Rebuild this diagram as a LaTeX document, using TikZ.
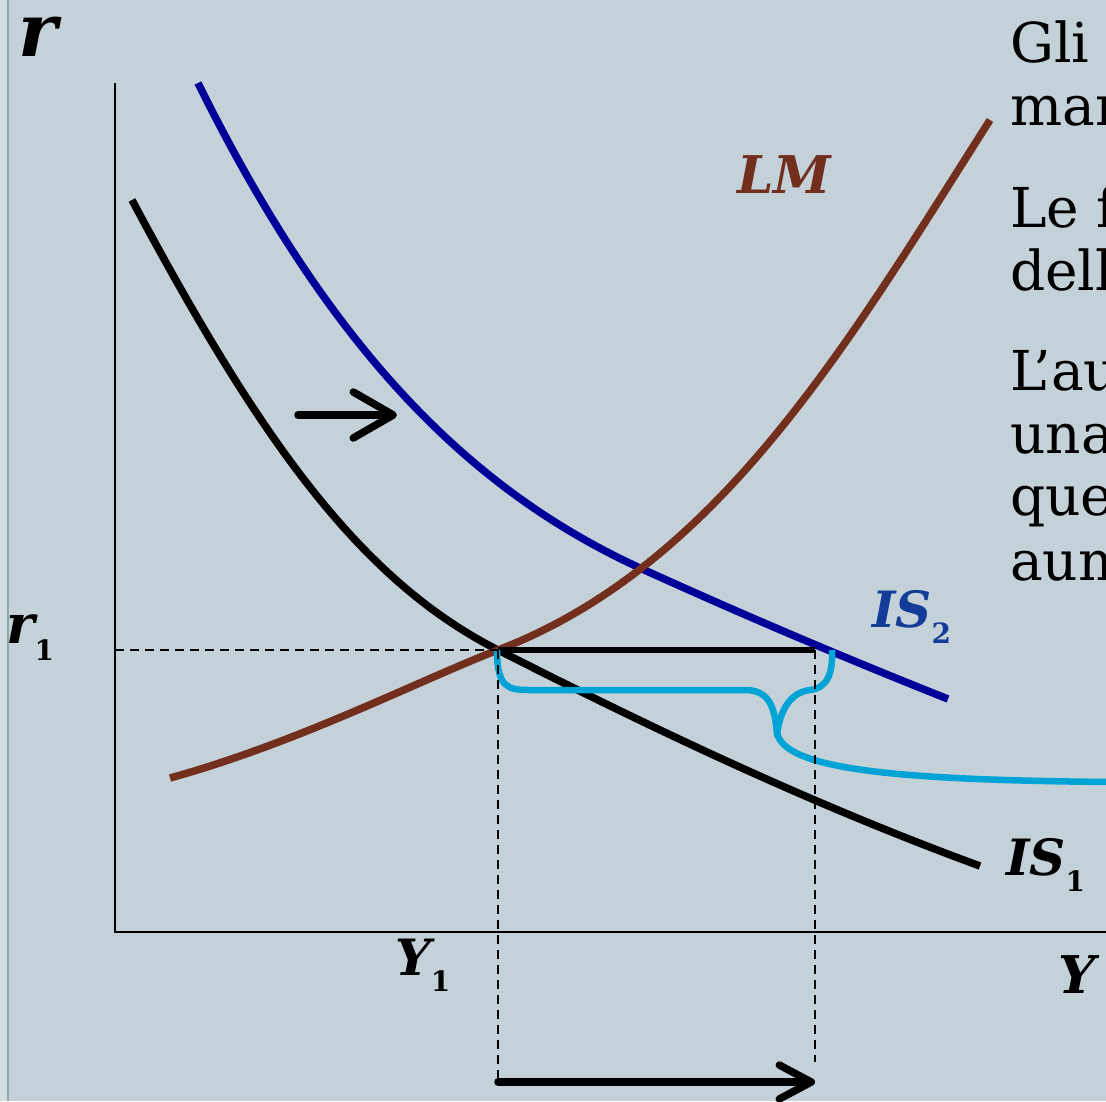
\documentclass[tikz,border=0pt]{standalone}
\usepackage{fontspec}
\setmainfont{DejaVu Serif}
\usetikzlibrary{arrows.meta}
\definecolor{bg}{HTML}{C5D1D8}
\definecolor{bgleft}{HTML}{D3DCE1}
\definecolor{edgecol}{HTML}{8FA8A8}
\definecolor{lmcol}{HTML}{722F1D}
\definecolor{istwo}{HTML}{000099}
\definecolor{istwolab}{HTML}{123C98}
\definecolor{bracecol}{HTML}{00A3D6}
\newcommand\lsub[1]{\raisebox{-0.32em}{\fontsize{28}{28}\selectfont\upshape #1}}
\begin{document}
\begin{tikzpicture}[x=1pt,y=-1pt,
  curve/.style={line width=7.5pt},
  dashline/.style={dash pattern=on 9pt off 6pt, line width=1.8pt},
  lab/.style={font=\fontsize{50}{50}\selectfont\bfseries\itshape, inner sep=0pt, anchor=base west},
  body/.style={font=\fontsize{55}{55}\selectfont, inner sep=0pt, anchor=base west},
  shiftarrow/.style={line width=7.5pt, line cap=round, line join=round}
]
\useasboundingbox (0,0) rectangle (1106,1101);
\fill[bg] (0,0) rectangle (1106,1101);
\clip (0,0) rectangle (1106,1101);
\fill[bgleft] (0,0) rectangle (7,1101);
\draw[edgecol, line width=2pt] (8,0) -- (8,1101);

% key coordinates
\coordinate (ytop) at (115,83);
\coordinate (O) at (115,932);
\coordinate (xend) at (1106,932);
\coordinate (r1ax) at (115,650);
\coordinate (E1) at (498,650);
\coordinate (E2) at (815,650);
\coordinate (E1low) at (498,1080);
\coordinate (E2low) at (815,1062);
\coordinate (A1) at (498,1082);
\coordinate (A2) at (815,1082);
\coordinate (M1) at (298,415);
\coordinate (M2) at (397,415);

% axes
\draw[line width=1.8pt] (ytop) -- (O) -- (xend);

% IS1
\draw[curve, black] (132,200) .. controls (260,440) and (360,580) .. (E1)
  .. controls (636,720) and (800,800) .. (980,866);
% IS2
\draw[curve, istwo] (198,83) .. controls (330,350) and (470,490) .. (640,568)
  .. controls (750,618) and (850,660) .. (948,699);
% LM
\draw[curve, lmcol] (170,778) .. controls (300,742) and (420,680) .. (E1)
  .. controls (720,565) and (850,340) .. (990,120);

% horizontal segment
\draw[line width=6pt] (E1) -- (E2);

% brace
\draw[bracecol, line width=6.5pt, line join=round]
  (497,650) .. controls (497,688) and (508,690) .. (530,690) -- (745,690)
  .. controls (768,690) and (775,705) .. (777,735)
  .. controls (780,708) and (792,692) .. (810,690)
  .. controls (828,688) and (833,672) .. (832,650);
\draw[bracecol, line width=6.5pt]
  (777,733) .. controls (785,770) and (900,780) .. (1110,782);

% dashed guides
\draw[dashline] (r1ax) -- (E1);
\draw[dashline] (E1) -- (E1low);
\draw[dashline] (E2) -- (E2low);

% shift arrows
\draw[shiftarrow, -{Straight Barb[length=40pt,width=46pt,line cap=round,line join=round]}] (M1) -- (M2);
\draw[shiftarrow, -{Straight Barb[length=32pt,width=34pt,line cap=round,line join=round]}] (A1) -- (A2);

% labels
\node[lab, font=\fontsize{74}{74}\selectfont\bfseries\itshape] (rlab) at (18,56) {r};
\node[lab, font=\fontsize{54}{54}\selectfont\bfseries\itshape] (r1lab) at (6,643) {r\lsub{1}};
\node[lab] (Y1lab) at (395,975) {Y\lsub{1}};
\node[lab, font=\fontsize{52}{52}\selectfont\bfseries\itshape] (Ylab) at (1058,993) {Y};
\node[lab] (IS1lab) at (1006,875) {IS\lsub{1}};
\node[lab, istwolab] (IS2lab) at (872,627) {IS\lsub{2}};
\node[lab, lmcol, font=\fontsize{52}{52}\selectfont\bfseries\itshape] (LMlab) at (737,193) {LM};

% side text (cut by the frame, as in the reference)
\node[body] (t1) at (1010,62) {Gli};
\node[body] (t2) at (1010,125) {man};
\node[body] (t3) at (1010,227) {Le f};
\node[body] (t4) at (1010,290) {dell};
\node[body] (t5) at (1010,390) {L’au};
\node[body] (t6) at (1010,453) {una};
\node[body] (t7) at (1010,515) {quel};
\node[body] (t8) at (1010,580) {aum};
\end{tikzpicture}
\end{document}
